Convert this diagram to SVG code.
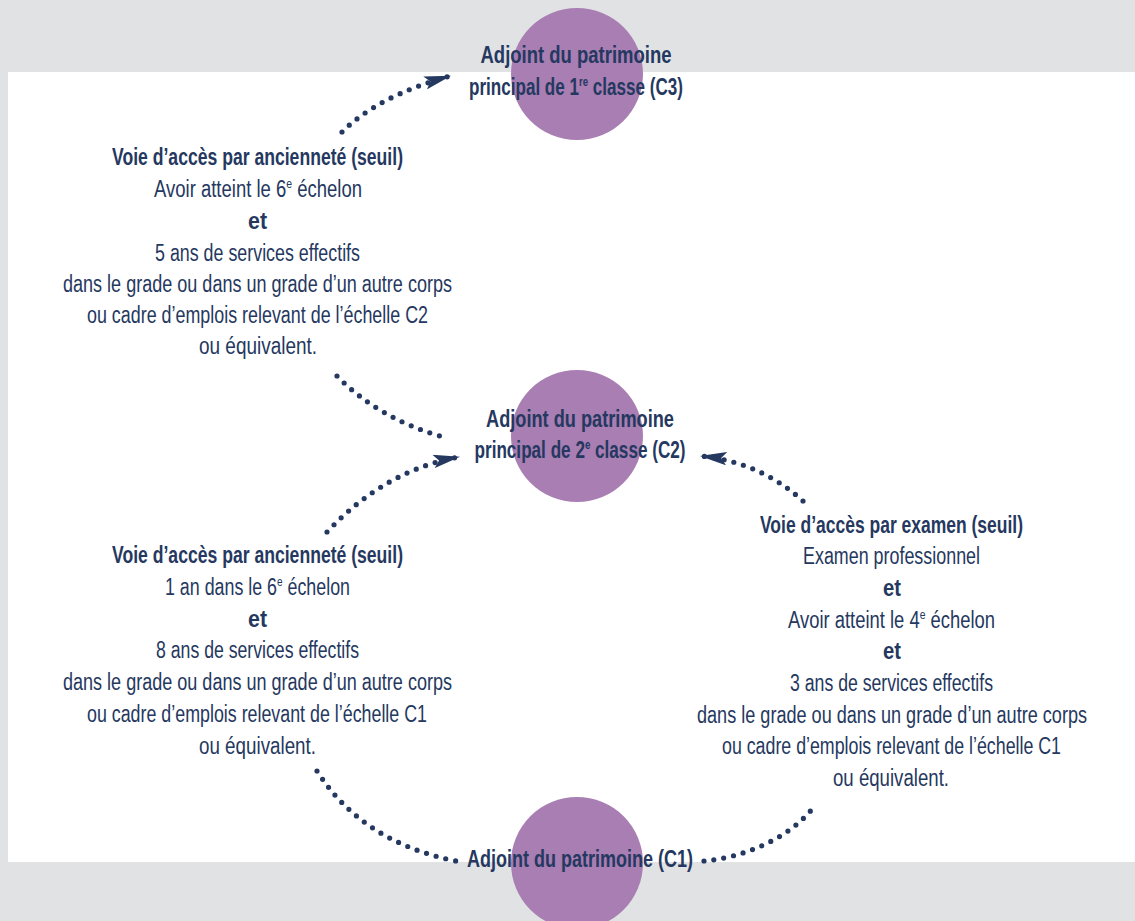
<svg xmlns="http://www.w3.org/2000/svg" width="1135" height="921" viewBox="0 0 1135 921">
<style>
.bg{fill:#e1e2e4}
.panel{fill:#ffffff}
.circ{fill:#a87eb3}
.t{font-family:"Liberation Sans","Noto Sans",sans-serif;font-size:23px;fill:#253860;text-anchor:middle}
.b{font-weight:bold}
.sup{font-size:13px}
.dot{fill:none;stroke:#253860;stroke-width:5.2;stroke-linecap:round;stroke-dasharray:0 10}
</style>
<defs>
<marker id="arr" viewBox="0 0 24 12" refX="23" refY="6" markerWidth="27" markerHeight="13.5" markerUnits="userSpaceOnUse" orient="auto">
<path d="M0,0 L24,6 L0,12 L5,6 Z" fill="#253860"/>
</marker>
</defs>
<rect class="bg" x="0" y="0" width="1135" height="921"/>
<rect class="panel" x="8" y="72" width="1127" height="790"/>

<g id="node-c3">
<circle class="circ" cx="577" cy="74" r="66"/>
<text class="t b" x="576" y="63" textLength="191" lengthAdjust="spacingAndGlyphs">Adjoint du patrimoine</text>
<text class="t b" x="576" y="95" textLength="214" lengthAdjust="spacingAndGlyphs">principal de 1<tspan class="sup" dy="-9">re</tspan><tspan dy="9"> classe (C3)</tspan></text>
</g>

<g id="node-c2">
<circle class="circ" cx="577" cy="436" r="66"/>
<text class="t b" x="580" y="427" textLength="188" lengthAdjust="spacingAndGlyphs">Adjoint du patrimoine</text>
<text class="t b" x="580" y="458" textLength="211" lengthAdjust="spacingAndGlyphs">principal de 2<tspan class="sup" dy="-9">e</tspan><tspan dy="9"> classe (C2)</tspan></text>
</g>

<g id="node-c1">
<circle class="circ" cx="577" cy="863" r="66"/>
<text class="t b" x="580" y="867" textLength="226" lengthAdjust="spacingAndGlyphs">Adjoint du patrimoine (C1)</text>
</g>

<g id="connectors">
<path class="dot" d="M342,132 Q378,96 450,76" marker-end="url(#arr)"/>
<path class="dot" d="M337,376 Q380,420 447,438"/>
<path class="dot" d="M327,532 Q385,470 459,457" marker-end="url(#arr)"/>
<path class="dot" d="M803,501 Q760,462 701,456" marker-end="url(#arr)"/>
<path class="dot" d="M317,771 Q362,842 456,861"/>
<path class="dot" d="M704,861 C740,858 790,840 816,804"/>
</g>

<g id="label-anciennete-c2">
<text class="t b" x="257.5" y="165" textLength="291" lengthAdjust="spacingAndGlyphs">Voie d’accès par ancienneté (seuil)</text>
<text class="t" x="258" y="197" textLength="208" lengthAdjust="spacingAndGlyphs">Avoir atteint le 6<tspan class="sup" dy="-9">e</tspan><tspan dy="9"> échelon</tspan></text>
<text class="t b" x="257.5" y="229" textLength="19" lengthAdjust="spacingAndGlyphs">et</text>
<text class="t" x="257.5" y="261" textLength="205" lengthAdjust="spacingAndGlyphs">5 ans de services effectifs</text>
<text class="t" x="257.5" y="292" textLength="389" lengthAdjust="spacingAndGlyphs">dans le grade ou dans un grade d’un autre corps</text>
<text class="t" x="257.5" y="323" textLength="341" lengthAdjust="spacingAndGlyphs">ou cadre d’emplois relevant de l’échelle C2</text>
<text class="t" x="258" y="354" textLength="118" lengthAdjust="spacingAndGlyphs">ou équivalent.</text>
</g>

<g id="label-anciennete-c1">
<text class="t b" x="257.5" y="563" textLength="291" lengthAdjust="spacingAndGlyphs">Voie d’accès par ancienneté (seuil)</text>
<text class="t" x="257.5" y="595" textLength="185" lengthAdjust="spacingAndGlyphs">1 an dans le 6<tspan class="sup" dy="-9">e</tspan><tspan dy="9"> échelon</tspan></text>
<text class="t b" x="257.5" y="627" textLength="19" lengthAdjust="spacingAndGlyphs">et</text>
<text class="t" x="257.5" y="658" textLength="203" lengthAdjust="spacingAndGlyphs">8 ans de services effectifs</text>
<text class="t" x="257.5" y="690" textLength="389" lengthAdjust="spacingAndGlyphs">dans le grade ou dans un grade d’un autre corps</text>
<text class="t" x="257" y="722" textLength="340" lengthAdjust="spacingAndGlyphs">ou cadre d’emplois relevant de l’échelle C1</text>
<text class="t" x="257.5" y="754" textLength="117" lengthAdjust="spacingAndGlyphs">ou équivalent.</text>
</g>

<g id="label-examen">
<text class="t b" x="891.5" y="533" textLength="263" lengthAdjust="spacingAndGlyphs">Voie d’accès par examen (seuil)</text>
<text class="t" x="891.5" y="564" textLength="177" lengthAdjust="spacingAndGlyphs">Examen professionnel</text>
<text class="t b" x="892" y="596" textLength="18" lengthAdjust="spacingAndGlyphs">et</text>
<text class="t" x="891.5" y="628" textLength="207" lengthAdjust="spacingAndGlyphs">Avoir atteint le 4<tspan class="sup" dy="-9">e</tspan><tspan dy="9"> échelon</tspan></text>
<text class="t b" x="892" y="659" textLength="18" lengthAdjust="spacingAndGlyphs">et</text>
<text class="t" x="891.5" y="691" textLength="203" lengthAdjust="spacingAndGlyphs">3 ans de services effectifs</text>
<text class="t" x="892" y="723" textLength="390" lengthAdjust="spacingAndGlyphs">dans le grade ou dans un grade d’un autre corps</text>
<text class="t" x="891.5" y="754" textLength="339" lengthAdjust="spacingAndGlyphs">ou cadre d’emplois relevant de l’échelle C1</text>
<text class="t" x="891" y="786" textLength="116" lengthAdjust="spacingAndGlyphs">ou équivalent.</text>
</g>
</svg>
